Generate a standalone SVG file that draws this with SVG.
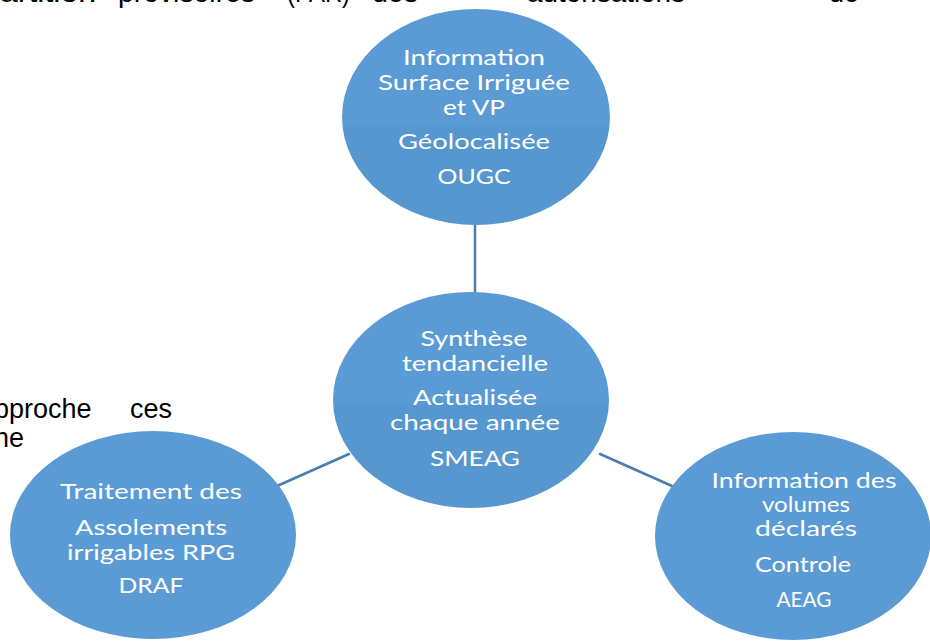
<svg xmlns="http://www.w3.org/2000/svg" width="930" height="641" viewBox="0 0 930 641">
<defs>
<linearGradient id="gTop" x1="0" y1="0" x2="0" y2="1">
<stop offset="0" stop-color="#5B9BD5"/><stop offset="0.546" stop-color="#5B9BD5"/>
<stop offset="0.546" stop-color="#5797D0"/><stop offset="1" stop-color="#5797D0"/>
</linearGradient>
<linearGradient id="gMid" x1="0" y1="0" x2="0" y2="1">
<stop offset="0" stop-color="#5B9BD5"/><stop offset="0.514" stop-color="#5B9BD5"/>
<stop offset="0.514" stop-color="#5797D0"/><stop offset="1" stop-color="#5797D0"/>
</linearGradient>
</defs>
<style>
.body{font-family:"Liberation Sans",Arial,sans-serif;font-size:27px;fill:#000}
.lbl{font-family:Lato,"Open Sans",sans-serif;font-size:21px;fill:#fff;text-anchor:middle}
.node{fill:#5B9BD5}
.conn{stroke:#4A7EB0;stroke-width:2.5;fill:none;stroke-linecap:round}
</style>
<rect width="930" height="641" fill="#fff"/>
<g id="bodytext" class="body">
<text x="0" y="2" textLength="96" lengthAdjust="spacingAndGlyphs">artition</text>
<text x="118" y="2" textLength="137" lengthAdjust="spacingAndGlyphs">provisoires</text>
<text x="287" y="2" textLength="63" lengthAdjust="spacingAndGlyphs">(PAR)</text>
<text x="372" y="2" textLength="46" lengthAdjust="spacingAndGlyphs">des</text>
<text x="527" y="2" textLength="158" lengthAdjust="spacingAndGlyphs">autorisations</text>
<text x="829" y="2" textLength="30" lengthAdjust="spacingAndGlyphs">de</text>
<text x="-6" y="418">pproche</text>
<text x="130" y="418">ces</text>
<text x="-6" y="447">ne</text>
</g>
<g id="connectors">
<line class="conn" x1="475" y1="224" x2="475" y2="306"/>
<line class="conn" x1="277" y1="486" x2="349" y2="454"/>
<line class="conn" x1="600" y1="454" x2="672" y2="486"/>
</g>
<g id="node-top">
<ellipse cx="476" cy="117" rx="134" ry="108" fill="url(#gTop)"/>
<text class="lbl" x="474" y="65" textLength="142" lengthAdjust="spacingAndGlyphs">Information</text>
<text class="lbl" x="474" y="90" textLength="192" lengthAdjust="spacingAndGlyphs">Surface Irriguée</text>
<text class="lbl" x="474" y="115" textLength="62" lengthAdjust="spacingAndGlyphs">et VP</text>
<text class="lbl" x="474" y="149" font-size="19" textLength="152" lengthAdjust="spacingAndGlyphs">Géolocalisée</text>
<text class="lbl" x="474" y="184" font-size="19" textLength="73" lengthAdjust="spacingAndGlyphs">OUGC</text>
</g>
<g id="node-center">
<ellipse cx="471" cy="400" rx="138" ry="108" fill="url(#gMid)"/>
<text class="lbl" x="474" y="346" textLength="107" lengthAdjust="spacingAndGlyphs">Synthèse</text>
<text class="lbl" x="475" y="371" textLength="146" lengthAdjust="spacingAndGlyphs">tendancielle</text>
<text class="lbl" x="475" y="405" textLength="124" lengthAdjust="spacingAndGlyphs">Actualisée</text>
<text class="lbl" x="475" y="430" textLength="170" lengthAdjust="spacingAndGlyphs">chaque année</text>
<text class="lbl" x="475" y="466" textLength="90" lengthAdjust="spacingAndGlyphs">SMEAG</text>
</g>
<g id="node-left">
<ellipse class="node" cx="153" cy="535" rx="143" ry="104"/>
<text class="lbl" x="151" y="499" textLength="182" lengthAdjust="spacingAndGlyphs">Traitement des</text>
<text class="lbl" x="151" y="535" textLength="152" lengthAdjust="spacingAndGlyphs">Assolements</text>
<text class="lbl" x="151" y="560" textLength="168" lengthAdjust="spacingAndGlyphs">irrigables RPG</text>
<text class="lbl" x="151" y="593" textLength="65" lengthAdjust="spacingAndGlyphs">DRAF</text>
</g>
<g id="node-right">
<ellipse class="node" cx="793" cy="536" rx="138" ry="104"/>
<text class="lbl" x="804" y="488" textLength="185" lengthAdjust="spacingAndGlyphs">Information des</text>
<text class="lbl" x="806" y="512" textLength="88" lengthAdjust="spacingAndGlyphs">volumes</text>
<text class="lbl" x="806" y="536" textLength="102" lengthAdjust="spacingAndGlyphs">déclarés</text>
<text class="lbl" x="803" y="572" textLength="96" lengthAdjust="spacingAndGlyphs">Controle</text>
<text class="lbl" x="804" y="607" textLength="55" lengthAdjust="spacingAndGlyphs">AEAG</text>
</g>
</svg>
